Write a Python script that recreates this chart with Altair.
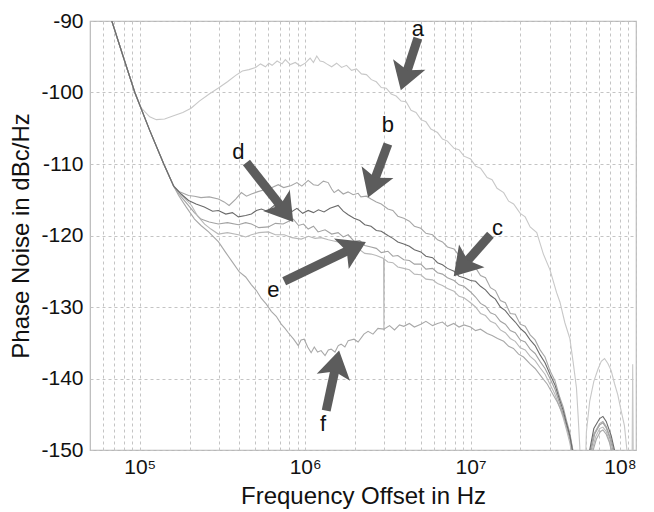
import math
import altair as alt
import pandas as pd

# ---- data: (log10 frequency offset, phase noise dBc/Hz) ----
common = [(4.80, -87.7), (4.831, -90.0), (4.90, -95.0), (4.97, -100.0), (5.06, -105.3),
          (5.145, -110.0), (5.205, -113.1)]

a_pts = [(4.80, -87.7), (4.831, -90.0), (4.90, -95.0), (4.97, -100.0), (5.01, -102.2), (5.06, -103.4),
         (5.10, -103.8), (5.15, -103.7), (5.20, -103.3), (5.26, -102.8), (5.31, -102.2), (5.36, -101.2),
         (5.42, -100.2), (5.48, -99.3), (5.53, -98.5), (5.58, -97.6), (5.62, -97.0), (5.66, -96.8),
         (5.70, -96.5), (5.73, -96.0), (5.76, -96.4), (5.78, -95.9), (5.80, -96.2), (5.83, -95.6),
         (5.86, -96.0), (5.88, -95.4), (5.91, -96.1), (5.94, -95.8), (5.97, -96.3), (6.00, -95.9),
         (6.03, -95.2), (6.05, -95.8), (6.07, -94.9), (6.09, -95.6), (6.11, -95.7), (6.13, -96.0),
         (6.16, -96.4), (6.19, -95.9), (6.22, -96.5), (6.25, -96.2), (6.28, -96.9), (6.31, -96.7),
         (6.34, -97.4), (6.37, -97.5), (6.40, -98.2), (6.43, -98.5), (6.46, -99.3), (6.49, -99.4),
         (6.52, -100.2), (6.55, -100.5), (6.58, -101.2), (6.61, -101.3), (6.64, -102.5), (6.67, -102.8),
         (6.70, -103.8), (6.73, -104.1), (6.76, -105.1), (6.80, -105.6), (6.83, -106.5), (6.86, -106.8),
         (6.90, -107.8), (6.93, -108.0), (6.96, -108.9), (7.00, -109.3), (7.03, -110.3), (7.06, -110.6),
         (7.10, -111.9), (7.13, -112.2), (7.16, -113.4), (7.20, -114.0), (7.23, -115.2), (7.26, -115.6),
         (7.30, -116.9), (7.33, -117.4), (7.36, -118.8), (7.40, -119.6), (7.44, -122.6), (7.48, -124.8),
         (7.52, -128.0), (7.54, -129.3), (7.57, -132.2), (7.60, -134.4), (7.62, -137.7), (7.64, -141.3),
         (7.65, -145.2), (7.66, -149.5), (7.668, -156.0), (7.69, -156.0), (7.70, -147.5), (7.72, -143.2),
         (7.745, -140.4), (7.77, -138.7), (7.79, -137.6), (7.81, -137.2), (7.83, -137.9), (7.85, -138.9),
         (7.87, -140.7), (7.89, -142.3), (7.91, -144.5), (7.93, -146.6), (7.945, -150.0), (7.955, -156.0),
         (7.975, -156.0), (7.980, -138.0), (7.985, -156.0)]

b_pts = [(5.24, -113.9), (5.295, -114.4), (5.33, -114.5), (5.37, -114.7), (5.42, -114.6), (5.475, -114.9),
         (5.51, -115.3), (5.54, -115.8), (5.58, -114.9), (5.614, -114.0), (5.645, -114.5), (5.675, -114.2),
         (5.71, -113.9), (5.753, -113.6), (5.79, -113.4), (5.837, -112.9), (5.87, -113.3), (5.916, -113.0),
         (5.95, -112.6), (5.98, -113.1), (6.018, -112.3), (6.05, -112.9), (6.078, -113.0), (6.11, -112.4),
         (6.139, -112.6), (6.16, -113.5), (6.175, -114.0), (6.20, -113.6), (6.23, -114.2), (6.259, -113.9),
         (6.29, -114.3), (6.32, -114.1), (6.337, -114.6), (6.37, -114.5), (6.398, -114.9), (6.43, -115.3),
         (6.46, -115.6), (6.50, -116.3), (6.53, -116.5), (6.56, -117.3), (6.596, -117.6), (6.63, -118.0),
         (6.66, -118.7), (6.699, -119.0), (6.73, -119.7), (6.77, -119.9), (6.80, -120.6), (6.83, -120.9),
         (6.86, -121.6), (6.90, -121.9), (6.93, -122.8), (6.96, -122.9), (7.00, -123.8), (7.03, -124.5),
         (7.06, -125.6), (7.09, -125.9), (7.12, -127.3), (7.15, -127.7), (7.18, -129.1), (7.21, -129.4),
         (7.24, -130.9), (7.27, -131.0), (7.30, -132.4), (7.33, -132.7), (7.36, -133.9), (7.39, -134.6),
         (7.42, -136.0), (7.45, -137.0), (7.48, -138.9), (7.51, -140.3), (7.54, -142.7), (7.56, -144.0),
         (7.58, -145.9), (7.60, -147.6), (7.62, -150.3), (7.64, -155.0), (7.70, -156.0), (7.72, -150.5),
         (7.745, -147.8), (7.78, -146.3), (7.80, -146.0), (7.82, -146.7), (7.85, -148.6), (7.87, -150.4),
         (7.88, -156.0)]

c_pts = [(5.25, -114.2), (5.295, -115.1), (5.34, -115.6), (5.39, -116.0), (5.44, -116.6), (5.475, -116.5),
         (5.52, -117.0), (5.56, -116.8), (5.596, -117.4), (5.64, -117.2), (5.675, -117.0), (5.705, -116.5),
         (5.735, -116.3), (5.77, -116.6), (5.813, -115.8), (5.85, -116.5), (5.88, -116.3), (5.916, -116.7),
         (5.95, -116.2), (5.985, -116.9), (6.018, -116.5), (6.05, -116.8), (6.08, -116.4), (6.114, -116.7),
         (6.15, -116.2), (6.199, -115.8), (6.23, -116.6), (6.26, -117.1), (6.295, -117.6), (6.33, -117.9),
         (6.36, -118.5), (6.398, -118.7), (6.43, -119.3), (6.46, -119.4), (6.50, -120.0), (6.53, -120.4),
         (6.56, -120.9), (6.596, -121.2), (6.63, -121.5), (6.66, -122.0), (6.699, -122.3), (6.73, -122.9),
         (6.77, -123.1), (6.80, -123.8), (6.83, -124.1), (6.86, -124.6), (6.90, -125.0), (6.93, -125.7),
         (6.96, -125.9), (7.00, -126.3), (7.03, -126.4), (7.06, -127.1), (7.09, -127.6), (7.12, -128.4),
         (7.15, -128.9), (7.18, -130.0), (7.21, -130.5), (7.24, -131.4), (7.27, -132.1), (7.30, -133.0),
         (7.33, -133.6), (7.36, -134.6), (7.39, -135.4), (7.42, -136.7), (7.45, -137.8), (7.48, -139.4),
         (7.51, -140.9), (7.54, -143.1), (7.56, -144.5), (7.58, -146.3), (7.60, -148.0), (7.62, -150.6),
         (7.64, -155.0), (7.70, -156.0), (7.72, -150.0), (7.745, -147.0), (7.78, -145.6), (7.80, -145.3),
         (7.82, -146.0), (7.85, -148.0), (7.87, -150.0), (7.88, -156.0)]

d_pts = [(5.24, -114.3), (5.28, -115.4), (5.33, -116.8), (5.37, -117.7), (5.42, -118.1), (5.475, -118.4),
         (5.53, -118.2), (5.596, -118.5), (5.64, -118.2), (5.675, -118.4), (5.72, -118.9), (5.777, -118.8),
         (5.82, -118.3), (5.867, -118.4), (5.90, -118.0), (5.928, -117.7), (5.96, -118.6), (5.99, -118.4),
         (6.018, -119.1), (6.05, -118.7), (6.078, -119.5), (6.12, -119.2), (6.16, -119.8), (6.199, -119.6),
         (6.23, -120.2), (6.26, -119.9), (6.295, -120.8), (6.33, -120.7), (6.36, -121.4), (6.398, -121.6),
         (6.43, -121.8), (6.46, -122.4), (6.50, -122.2), (6.53, -122.9), (6.56, -122.8), (6.596, -123.4),
         (6.63, -123.5), (6.66, -124.0), (6.699, -124.0), (6.73, -124.7), (6.77, -124.6), (6.80, -125.2),
         (6.83, -125.4), (6.86, -125.9), (6.90, -126.3), (6.93, -126.9), (6.96, -127.1), (7.00, -127.9),
         (7.03, -128.6), (7.06, -129.5), (7.09, -129.9), (7.12, -130.8), (7.15, -131.1), (7.18, -132.0),
         (7.21, -132.4), (7.24, -133.3), (7.27, -133.6), (7.30, -134.6), (7.33, -134.9), (7.36, -135.9),
         (7.39, -136.5), (7.42, -137.6), (7.45, -138.6), (7.48, -140.0), (7.51, -141.5), (7.54, -143.6),
         (7.56, -145.0), (7.58, -146.8), (7.60, -148.5), (7.62, -151.0), (7.64, -155.0), (7.70, -156.0),
         (7.725, -150.5), (7.75, -147.8), (7.78, -146.5), (7.80, -146.2), (7.82, -146.9), (7.845, -148.6),
         (7.865, -150.5), (7.88, -156.0)]

e_pts = [(5.25, -114.3), (5.313, -115.8), (5.35, -117.3), (5.392, -118.4), (5.43, -119.1), (5.475, -119.8),
         (5.53, -119.6), (5.596, -119.9), (5.64, -120.2), (5.675, -119.9), (5.72, -119.6), (5.777, -119.5),
         (5.82, -119.9), (5.873, -119.9), (5.92, -120.3), (5.976, -120.5), (6.02, -120.1), (6.06, -120.4),
         (6.096, -120.3), (6.14, -120.6), (6.199, -120.9), (6.23, -121.0), (6.26, -121.6), (6.295, -121.9),
         (6.33, -122.0), (6.36, -122.5), (6.398, -122.6), (6.43, -122.8), (6.474, -123.2), (6.476, -133.3),
         (6.478, -123.3), (6.50, -123.7), (6.53, -123.8), (6.56, -124.4), (6.596, -124.6), (6.63, -124.8),
         (6.66, -125.4), (6.699, -125.5), (6.73, -126.1), (6.77, -126.2), (6.80, -126.7), (6.83, -127.0),
         (6.86, -127.4), (6.90, -127.8), (6.93, -128.5), (6.96, -128.7), (7.00, -129.4), (7.03, -130.0),
         (7.06, -130.9), (7.09, -131.2), (7.12, -132.0), (7.15, -132.3), (7.18, -133.2), (7.21, -133.6),
         (7.24, -134.4), (7.27, -134.8), (7.30, -135.7), (7.33, -136.0), (7.36, -136.9), (7.39, -137.5),
         (7.42, -138.5), (7.45, -139.4), (7.48, -140.8), (7.51, -142.2), (7.54, -144.1), (7.56, -145.5),
         (7.58, -147.2), (7.60, -149.0), (7.62, -151.5), (7.64, -155.0), (7.70, -156.0), (7.73, -150.5),
         (7.755, -148.2), (7.78, -147.0), (7.80, -146.8), (7.82, -147.4), (7.84, -148.8), (7.86, -150.6),
         (7.88, -156.0)]

f_pts = [(5.235, -114.4), (5.28, -116.0), (5.331, -117.7), (5.37, -118.6), (5.416, -119.5), (5.476, -120.9),
         (5.52, -122.4), (5.572, -124.1), (5.602, -125.1), (5.64, -125.8), (5.675, -126.9), (5.705, -127.7),
         (5.735, -128.8), (5.765, -129.6), (5.795, -130.6), (5.825, -131.3), (5.855, -132.4), (5.878, -133.0),
         (5.898, -133.6), (5.93, -134.5), (5.958, -135.4), (5.975, -134.6), (5.994, -134.5), (6.015, -135.6),
         (6.036, -136.4), (6.055, -135.6), (6.075, -136.3), (6.096, -136.1), (6.12, -136.8), (6.14, -136.0),
         (6.157, -135.9), (6.18, -136.3), (6.20, -135.4), (6.217, -135.2), (6.24, -135.6), (6.26, -134.7),
         (6.295, -134.5), (6.32, -134.9), (6.355, -133.8), (6.38, -133.4), (6.41, -133.8), (6.44, -133.0),
         (6.476, -133.1), (6.51, -132.6), (6.54, -133.2), (6.57, -132.5), (6.596, -132.7), (6.63, -132.3),
         (6.66, -132.8), (6.699, -132.4), (6.73, -132.0), (6.77, -132.6), (6.80, -132.3), (6.83, -132.1),
         (6.86, -132.7), (6.898, -132.3), (6.93, -132.8), (6.96, -132.5), (7.00, -132.8), (7.03, -133.3),
         (7.06, -133.1), (7.10, -133.7), (7.13, -134.0), (7.163, -134.4), (7.20, -134.8), (7.23, -135.5),
         (7.259, -135.8), (7.29, -136.6), (7.32, -137.0), (7.361, -138.0), (7.39, -138.6), (7.43, -139.8),
         (7.464, -140.8), (7.50, -142.3), (7.524, -143.3), (7.55, -144.6), (7.584, -146.6), (7.60, -148.0),
         (7.62, -150.2), (7.64, -155.0), (7.70, -156.0), (7.735, -150.5), (7.76, -148.5), (7.785, -147.4),
         (7.80, -147.2), (7.82, -147.8), (7.84, -149.0), (7.855, -150.5), (7.87, -156.0)]

curve_names = ["a", "b", "d", "e", "f", "c"]
curve_colors = ["#c8c8c8", "#a6a6a6", "#a2a2a2", "#b8b8b8", "#a8a8a8", "#6a6a6a"]

# annotation arrows: label, label position, arrow tail, arrow tip (log10 f, dB)
ann_labels = ["a", "b", "c", "d", "e", "f"]
ann_text_pos = [(6.681, -91.1), (6.50, -104.6), (7.163, -119.0), (5.596, -108.3), (5.807, -127.6), (6.108, -146.4)]
ann_tail = [(6.681, -92.4), (6.50, -107.2), (7.12, -119.9), (5.645, -109.8), (5.873, -126.4), (6.127, -144.5)]
ann_tip = [(6.578, -99.7), (6.38, -114.7), (6.898, -125.7), (5.928, -118.1), (6.367, -120.9), (6.205, -136.1)]

x_ticks = [60000, 70000, 80000, 90000] + [k * 10 ** e for e in (5, 6, 7) for k in range(1, 10)] + [100000000]
y_ticks = [-150, -140, -130, -120, -110, -100, -90]

# ---- build tables ----
series = {"a": a_pts, "b": common + b_pts, "c": common + c_pts, "d": common + d_pts,
          "e": common + e_pts, "f": common + f_pts}
rows = []
for name in curve_names:
    for i, (lf, db) in enumerate(series[name]):
        rows.append({"curve": name, "freq": 10 ** lf, "db": db, "i": i})
df = pd.DataFrame(rows)

W, H = 546, 429
PX_DEC = W / math.log10(1e8 / 5e4)
PX_DB = H / 60.0
HEAD = 34.0  # symbol side in px

arrow_rows = []
for lab, tp, tl, tip in zip(ann_labels, ann_text_pos, ann_tail, ann_tip):
    dx = (tip[0] - tl[0]) * PX_DEC
    dy = -(tip[1] - tl[1]) * PX_DB
    L = math.hypot(dx, dy)
    ux, uy = dx / L, dy / L
    ang = math.degrees(math.atan2(dx, -dy)) % 360
    half = HEAD / 2
    c_lf = tip[0] - half * ux / PX_DEC
    c_db = tip[1] + half * uy / PX_DB
    arrow_rows.append({"label": lab,
                       "tx": 10 ** tp[0], "ty": tp[1],
                       "x1": 10 ** tl[0], "y1": tl[1],
                       "x2": 10 ** c_lf, "y2": c_db,
                       "angle": ang})
adf = pd.DataFrame(arrow_rows)

FONT = "Liberation Sans"
xscale = alt.Scale(type="log", domain=[5e4, 1e8], nice=False)
yscale = alt.Scale(domain=[-150, -90], nice=False, zero=False)

x_label_expr = ("datum.value == 100000 ? '10⁵' : datum.value == 1000000 ? '10⁶' : "
                "datum.value == 10000000 ? '10⁷' : datum.value == 100000000 ? '10⁸' : ''")

lines = alt.Chart(df).mark_line(clip=True, strokeWidth=1.1).encode(
    x=alt.X("freq:Q", scale=xscale,
            axis=alt.Axis(values=x_ticks, labelExpr=x_label_expr, title="Frequency Offset in Hz",
                          labelOverlap=False, labelPadding=6, titleY=53, titleBaseline="alphabetic")),
    y=alt.Y("db:Q", scale=yscale,
            axis=alt.Axis(values=y_ticks, labelExpr="'' + datum.value", title="Phase Noise in dBc/Hz",
                          labelPadding=7, titleX=-69, titleY=H / 2, titleAngle=-90,
                          titleAlign="center", titleBaseline="middle")),
    color=alt.Color("curve:N", scale=alt.Scale(domain=curve_names, range=curve_colors), legend=None),
    order="i:Q",
)

shafts = alt.Chart(adf).mark_rule(strokeWidth=9, color="#5c5c5c", strokeCap="butt").encode(
    x=alt.X("x1:Q", scale=xscale), y=alt.Y("y1:Q", scale=yscale),
    x2="x2:Q", y2="y2:Q",
)

head_path = "M0,-1 L1,0.6 L0,0.25 L-1,0.6 Z"
heads = alt.Chart(adf).mark_point(shape=head_path, filled=True, size=HEAD * HEAD, color="#5c5c5c",
                                  opacity=1, strokeWidth=0).encode(
    x=alt.X("x2:Q", scale=xscale), y=alt.Y("y2:Q", scale=yscale),
    angle=alt.Angle("angle:Q", scale=None),
)

texts = alt.Chart(adf).mark_text(fontSize=22, font=FONT, color="#111111").encode(
    x=alt.X("tx:Q", scale=xscale), y=alt.Y("ty:Q", scale=yscale), text="label:N",
)

chart = alt.layer(lines, shafts, heads, texts).properties(
    width=W, height=H,
    autosize=alt.AutoSizeParams(type="none"),
    padding={"left": 82, "top": 13, "right": 10, "bottom": 60},
).configure_view(
    stroke="#b8b8b8", strokeWidth=1.2,
).configure_axis(
    grid=True, gridDash=[3, 3], gridColor="#c4c4c4", gridWidth=1,
    domain=False, ticks=False,
    labelFont=FONT, labelFontSize=21, labelColor="#111111",
    titleFont=FONT, titleFontSize=24, titleFontWeight="normal", titleColor="#111111",
)

chart.save("out.html", embed_options={"renderer": "svg", "actions": False})
